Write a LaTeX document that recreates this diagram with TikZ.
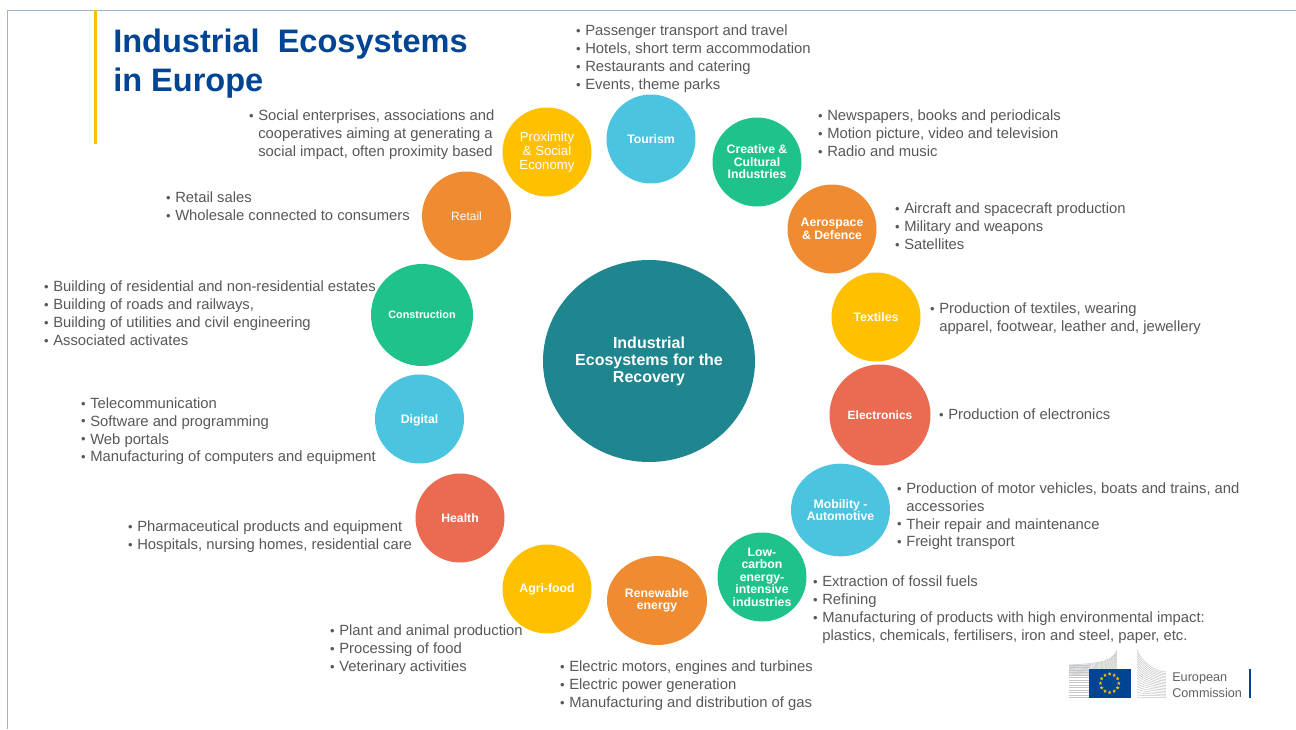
\documentclass[tikz,border=0pt]{standalone}
\usepackage{fontspec}
\setmainfont{Liberation Sans}
\usetikzlibrary{shapes.geometric}
\definecolor{teal1}{HTML}{1F858E}
\definecolor{cyan1}{HTML}{4BC4DF}
\definecolor{green1}{HTML}{20C28C}
\definecolor{orange1}{HTML}{EF8C31}
\definecolor{yellow1}{HTML}{FFC000}
\definecolor{red1}{HTML}{EA6B52}
\definecolor{euBlue}{HTML}{004494}
\definecolor{frameC}{HTML}{9DB4D2}
\definecolor{txt}{HTML}{585858}
\definecolor{fan}{HTML}{C4C6C8}
\newcommand{\bu}{\leavevmode\llap{\raisebox{.04em}{\scalebox{.88}{\textbullet}}\hspace{3.4pt}}}
\tikzset{
  x=0.75pt,y=-0.75pt,
  eco/.style={circle,fill=#1,draw=none,inner sep=0pt,text=white,align=center,
     font=\fontsize{9.2}{9.4}\selectfont\bfseries,minimum size=66.75pt},
  ecoel/.style={ellipse,fill=#1,draw=none,inner sep=0pt,text=white,align=center,
     font=\fontsize{9.2}{9.4}\selectfont\bfseries},
  listing/.style={anchor=north west,inner sep=0pt,align=left,text=txt,yshift=-1.5pt,
     font=\fontsize{11.1}{13.5}\selectfont},
  tightlisting/.style={listing,font=\fontsize{11.1}{13.3}\selectfont},
  titletxt/.style={anchor=base west,inner sep=0pt,text=euBlue,font=\fontsize{24.4}{29}\selectfont\bfseries},
  logotxt/.style={anchor=west,inner sep=0pt,text=black!62,font=\fontsize{9.5}{10}\selectfont},
  fanline/.style={draw=fan,line width=0.38pt},
  euStar/.style={star,star points=5,star point ratio=2.2,fill=yellow1,draw=none,inner sep=0pt,minimum size=2.9pt}
}
\newcommand{\ls}{\strut}
\begin{document}
\begin{tikzpicture}
\useasboundingbox (0,0) rectangle (1296,729);
\fill[white] (0,0) rectangle (1296,729);
% frame
\draw[frameC,line width=0.75pt] (7.5,729) -- (7.5,10) -- (1296,10);
\fill[yellow1] (94,10) rectangle (97.3,144);
% title
\node[titletxt] (t1) at (113,52) {Industrial\ \ Ecosystems};
\node[titletxt] (t2) at (113,91) {in Europe};
% centre
\node[ellipse,fill=teal1,minimum width=159pt,minimum height=151.5pt,inner sep=0pt,text=white,align=center,font=\fontsize{12}{12.8}\selectfont\bfseries] (centre) at (649,361) {Industrial\\Ecosystems for the\\Recovery};
% circles
\node[eco=cyan1] (tourism) at (651,139) {Tourism};
\node[eco=green1] (creative) at (757,162) {Creative \&\\Cultural\\Industries};
\node[eco=orange1] (aero) at (832,229) {Aerospace\\\& Defence};
\node[eco=yellow1] (textiles) at (876,317) {Textiles};
\node[eco=red1,minimum size=75.75pt,font=\fontsize{9}{9.4}\selectfont\bfseries] (electronics) at (880,415) {Electronics};
\node[ecoel=cyan1,minimum width=74.25pt,minimum height=69.5pt] (mobility) at (840.5,510) {Mobility -\\Automotive};
\node[eco=green1] (lowcarbon) at (762,577) {Low-\\carbon\\energy-\\intensive\\industries};
\node[ecoel=orange1,minimum width=75pt,minimum height=66.75pt] (renew) at (657,600.5) {Renewable\\energy};
\node[eco=yellow1] (agri) at (547,589) {Agri-food};
\node[eco=red1] (health) at (460,518) {Health};
\node[eco=cyan1,text depth=0pt] (digital) at (419.5,419) {Digital};
\node[eco=green1,minimum size=76.5pt,font=\fontsize{8.1}{9.4}\selectfont\bfseries] (construction) at (422,315) {Construction};
\node[eco=orange1,font=\fontsize{9}{9.4}\selectfont] (retail) at (466.5,216) {Retail};
\node[eco=yellow1,font=\fontsize{9.9}{10.5}\selectfont] (proximity) at (547,152) {Proximity\\\& Social\\Economy};
% lists
\node[listing] (l1) at (585,21) {\bu\ls Passenger transport and travel\\\bu\ls Hotels, short term accommodation\\\bu\ls Restaurants and catering\\\bu\ls Events, theme parks};
\node[listing] (l2) at (827,106) {\bu\ls Newspapers, books and periodicals\\\bu\ls Motion picture, video and television\\\bu\ls Radio and music};
\node[listing] (l3) at (904,199) {\bu\ls Aircraft and spacecraft production\\\bu\ls Military and weapons\\\bu\ls Satellites};
\node[listing] (l4) at (939,299) {\bu\ls Production of textiles, wearing\\\ls apparel, footwear, leather and, jewellery};
\node[listing] (l5) at (948,405) {\bu\ls Production of electronics};
\node[tightlisting] (l6) at (906,479) {\bu\ls Production of motor vehicles, boats and trains, and\\\ls accessories\\\bu\ls Their repair and maintenance\\\bu\ls Freight transport};
\node[listing] (l7) at (822,572) {\bu\ls Extraction of fossil fuels\\\bu\ls Refining\\\bu\ls Manufacturing of products with high environmental impact:\\\ls plastics, chemicals, fertilisers, iron and steel, paper, etc.};
\node[listing] (l8) at (569,657) {\bu\ls Electric motors, engines and turbines\\\bu\ls Electric power generation\\\bu\ls Manufacturing and distribution of gas};
\node[listing] (l9) at (339,621) {\bu\ls Plant and animal production\\\bu\ls Processing of food\\\bu\ls Veterinary activities};
\node[listing] (l10) at (137,517) {\bu\ls Pharmaceutical products and equipment\\\bu\ls Hospitals, nursing homes, residential care};
\node[tightlisting] (l11) at (90,394) {\bu\ls Telecommunication\\\bu\ls Software and programming\\\bu\ls Web portals\\\bu\ls Manufacturing of computers and equipment};
\node[listing] (l12) at (53,277) {\bu\ls Building of residential and non-residential estates\\\bu\ls Building of roads and railways,\\\bu\ls Building of utilities and civil engineering\\\bu\ls Associated activates};
\node[listing] (l13) at (175,188) {\bu\ls Retail sales\\\bu\ls Wholesale connected to consumers};
\node[listing] (l14) at (258,106) {\bu\ls Social enterprises, associations and\\\ls cooperatives aiming at generating a\\\ls social impact, often proximity based};
% logo: left wing
\foreach \i in {0,...,13}{
  \pgfmathsetmacro{\yl}{697.5-\i*2.5}
  \draw[fanline] (1069,\yl) -- (1089,\yl);
}
\foreach \i in {0,...,12}{
  \pgfmathsetmacro{\yt}{665+\i*0.9}
  \pgfmathsetmacro{\ye}{650+\i*1.55}
  \draw[fanline] (1069,\yt) .. controls (1092,{\yt-1.5}) and (1112,{\yt-1.5}) .. (1117,\ye);
}
% logo: right wing
\foreach \i in {0,...,17}{
  \pgfmathsetmacro{\ys}{650+\i*2.8}
  \pgfmathsetmacro{\ye}{672+\i*1.5}
  \draw[fanline] (1137,\ys) .. controls (1141,{\ys+10-\i*0.55}) and (1152,{\ye-0.8}) .. (1166,\ye);
}
% flag
\fill[euBlue] (1089,669) rectangle (1131,697.5);
\foreach \a in {0,30,...,330}{
  \node[euStar] (s\a) at ({1109.6+9.2*cos(\a)},{683.2+9.2*sin(\a)}) {};
}
% logo text
\node[logotxt] (eu1) at (1172,678.5) {European};
\node[logotxt] (eu2) at (1172,693) {Commission};
\fill[euBlue] (1248.5,669) rectangle (1250.6,698);
\end{tikzpicture}
\end{document}
